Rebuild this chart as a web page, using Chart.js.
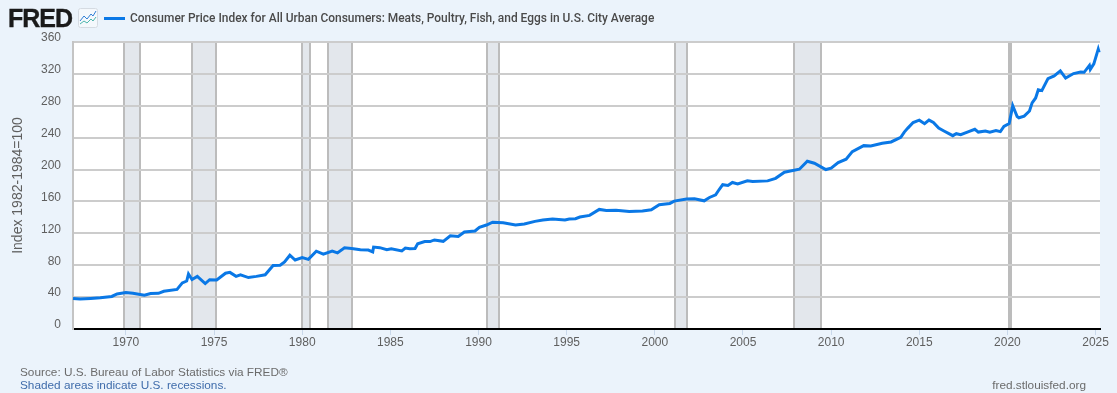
<!DOCTYPE html>
<html>
<head>
<meta charset="utf-8">
<title>FRED CPI Meats, Poultry, Fish, and Eggs</title>
<script src="https://cdn.jsdelivr.net/npm/chart.js@4"></script>
<style>
  html, body { margin: 0; padding: 0; background: #ebf3fb; overflow: hidden; }
  #wrap { position: relative; width: 1117px; height: 393px; font-family: "Liberation Sans", Arial, sans-serif; }
  #wrap canvas { position: absolute; left: 0; top: 0; }
  .txt { position: absolute; white-space: nowrap; font-size: 11.8px; line-height: 13px; color: #6b6b6b; }
  #logo { position: absolute; left: 8px; top: 3px; font: bold 25px/30px "Liberation Sans", Arial, sans-serif; letter-spacing: -1px; color: #1a1a1a; -webkit-text-stroke: 0.4px #1a1a1a; }
  #icon { position: absolute; left: 78px; top: 8px; }
  #legendLine { position: absolute; left: 104px; top: 17px; width: 21px; height: 3px; background: #0a78e6; }
  #legendText { position: absolute; left: 130px; top: 11px; font: 500 11.95px/15px Roboto, sans-serif; color: #4a4a4a; white-space: nowrap; }
</style>
</head>
<body>
<div id="wrap">
  <canvas id="chartFirst"></canvas>
  <div id="logo">FRED</div>
  <svg id="icon" width="20" height="20" viewBox="0 0 20 20">
    <rect x="0.5" y="0.5" width="19" height="19" rx="2" fill="#f4f8fc" stroke="#d5dbe2"></rect>
    <polyline points="2,13 6,8 9,11 13,6 15,8 18,3" fill="none" stroke="#2f7fd6" stroke-width="1"></polyline>
    <polyline points="2,16 6,13 9,15 13,11 15,13 18,9" fill="none" stroke="#4db6ac" stroke-width="1"></polyline>
  </svg>
  <div id="legendLine"></div>
  <div id="legendText"></div>
  <div class="txt" style="left:20px;top:366px">Source: U.S. Bureau of Labor Statistics via FRED®</div>
  <div class="txt" style="left:20px;top:379px;color:#3f6cab">Shaded areas indicate U.S. recessions.</div>
  <div class="txt" style="right:31px;top:379px">fred.stlouisfed.org</div>
</div>
<script>
const seriesName = 'Consumer Price Index for All Urban Consumers: Meats, Poultry, Fish, and Eggs in U.S. City Average';

const years = [
  1967.0,1967.4,1968.0,1968.55,1969.2,1969.5,1970.0,1970.4,1971.05,1971.4,1971.85,1972.15,1972.9,1973.2,1973.45,1973.55,1973.75,
  1974.05,1974.5,1974.75,1975.15,1975.65,1975.9,1976.25,1976.5,1976.95,1977.4,1977.9,1978.35,1978.75,1979.0,1979.3,1979.6,
  1980.0,1980.35,1980.8,1981.2,1981.7,1982.0,1982.4,1982.8,1983.3,1983.75,1984.0,1984.05,1984.4,1984.8,1985.05,1985.65,1985.85,
  1986.1,1986.4,1986.55,1986.95,1987.25,1987.5,1988.0,1988.4,1988.85,1989.2,1989.8,1990.05,1990.45,1990.8,1991.4,1992.1,1992.6,
  1993.2,1993.65,1994.2,1994.9,1995.15,1995.5,1995.75,1996.3,1996.85,1997.25,1997.8,1998.55,1999.3,1999.8,2000.25,2000.85,
  2001.1,2001.8,2002.25,2002.8,2003.1,2003.45,2003.65,2003.85,2004.15,2004.4,2004.7,2005.25,2005.55,2006.4,2006.85,2007.35,
  2008.2,2008.65,2009.05,2009.7,2010.0,2010.4,2010.85,2011.2,2011.85,2012.25,2012.9,2013.4,2013.95,2014.15,2014.35,2014.65,
  2015.0,2015.3,2015.55,2015.8,2016.1,2016.4,2016.9,2017.1,2017.35,2017.8,2018.15,2018.35,2018.75,2019.0,2019.35,2019.6,2019.8,
  2020.1,2020.3,2020.55,2020.65,2020.95,2021.25,2021.4,2021.6,2021.75,2021.95,2022.3,2022.65,2023.0,2023.3,2023.75,2024.15,
  2024.35,2024.65,2024.7,2024.9,2025.15,2025.2
];
const cpiValues = [
  38.4,37.6,38.4,39.2,40.8,44,45.7,44.8,42.4,44.4,44.8,47.3,49.7,57.8,60.2,69,62,
  65.9,57,61.8,61.4,70,71,66,67.9,64.5,66,68,79.6,80,84,92.5,86.5,
  89.5,87.3,97.6,94,97.6,95.5,102,101,99.4,99,96.8,102.8,102,99.4,100.6,98,101.5,
  100.6,101,107,109.6,109.6,111.7,110,117,116,121.7,123,127.5,130.4,134,133.3,130.4,131.7,
  135,136.7,138,136.7,138,138.3,140.4,142.5,150,148.7,149,147.5,148,149.6,155.8,157.5,
  160.4,163,163.3,160.8,165,168.3,175,181,180,183.8,182,185.8,185,185.8,189,196.7,
  200.4,210.4,208,200,201.7,208.8,213,222.5,230,229.6,233,234.6,240.4,247,252,259,
  262,257.6,262,259,252,248.4,242.5,245,243.8,247.6,250.5,247,248.4,247,249,247.6,254,
  257.6,280,266.5,265,267,273.5,283.7,289.8,300,299,314,317.5,323.7,314.7,320.4,322.4,
  322,330.6,325.7,332.6,351,347
];

const recessionStarts = [1969.89, 1973.77, 1979.97, 1981.45, 1990.5, 2001.15, 2007.9, 2020.1];
const recessionEnds   = [1970.78, 1975.13, 1980.46, 1982.81, 1991.15, 2001.8, 2009.4, 2020.22];

const tickYears = [1970,1975,1980,1985,1990,1995,2000,2005,2010,2015,2020,2025];

document.getElementById('legendText').textContent = seriesName;

//-----plot background and recession bands, under the grid
const recessionBands = {
  id: 'recessionBands',
  beforeDraw(chart){
    const ctx = chart.ctx, area = chart.chartArea, xs = chart.scales.x;
    ctx.save();
    ctx.fillStyle = '#ffffff';
    ctx.fillRect(area.left, area.top, area.right - area.left, area.bottom - area.top);
    for (let i = 0; i < recessionStarts.length; i++) {
      const a = xs.getPixelForValue(recessionStarts[i]);
      const b = xs.getPixelForValue(recessionEnds[i]);
      ctx.fillStyle = '#e3e7ec';
      ctx.fillRect(a, area.top, b - a, area.bottom - area.top);
      ctx.fillStyle = '#bcbcbc';
      ctx.fillRect(Math.round(a) - 1, area.top, 2, area.bottom - area.top);
      ctx.fillRect(Math.round(b) - 1, area.top, 2, area.bottom - area.top);
    }
    ctx.restore();
  }
};

let chart1;
function drawFirstElement(){
  const ctx = document.getElementById('chartFirst').getContext('2d');
  const points = years.map(function(y, i){ return {x: y, y: cpiValues[i]}; });
  chart1 = new Chart(ctx, {
    type: 'line',
    data: {
      datasets: [{
        label: seriesName,
        data: points,
        borderColor: '#0a78e6',
        borderWidth: 3,
        pointRadius: 0,
        tension: 0,
        clip: false
      }]
    },
    plugins: [recessionBands],
    options: {
      responsive: false,
      animation: false,
      layout: {padding: {top: 42, right: 17, bottom: 0, left: 0}},
      plugins: {legend: {display: false}, tooltip: {enabled: false}},
      scales: {
        x: {
          type: 'linear',
          min: 1967,
          max: 2025.25,
          afterFit: function(s){ s.height = 64; },
          afterBuildTicks: function(s){ s.ticks = tickYears.map(function(v){ return {value: v}; }); },
          grid: {drawOnChartArea: false, drawTicks: true, tickLength: 6, tickColor: '#c9d8ea', lineWidth: 1},
          border: {color: '#000000', width: 2},
          ticks: {
            autoSkip: false, maxRotation: 0, padding: 0, color: '#5f5f5f',
            font: {family: '"Liberation Sans"', size: 12},
            callback: function(v){ return String(v); }
          }
        },
        y: {
          min: 0,
          max: 360,
          afterFit: function(s){ s.width = 73; },
          grid: {color: '#cccccc', lineWidth: 2, drawTicks: false},
          border: {color: '#c4c4c4', width: 2},
          title: {
            display: true,
            text: 'Index 1982-1984=100',
            color: '#5f5f5f',
            font: {family: '"Liberation Sans"', size: 14},
            padding: {top: 10, bottom: 0}
          },
          ticks: {
            stepSize: 40, padding: 12, labelOffset: -4, color: '#5f5f5f',
            font: {family: '"Liberation Sans"', size: 12}
          }
        }
      }
    }
  });
}

const c = document.getElementById('chartFirst');
c.width = 1117;
c.height = 393;
drawFirstElement();
</script>
</body>
</html>
